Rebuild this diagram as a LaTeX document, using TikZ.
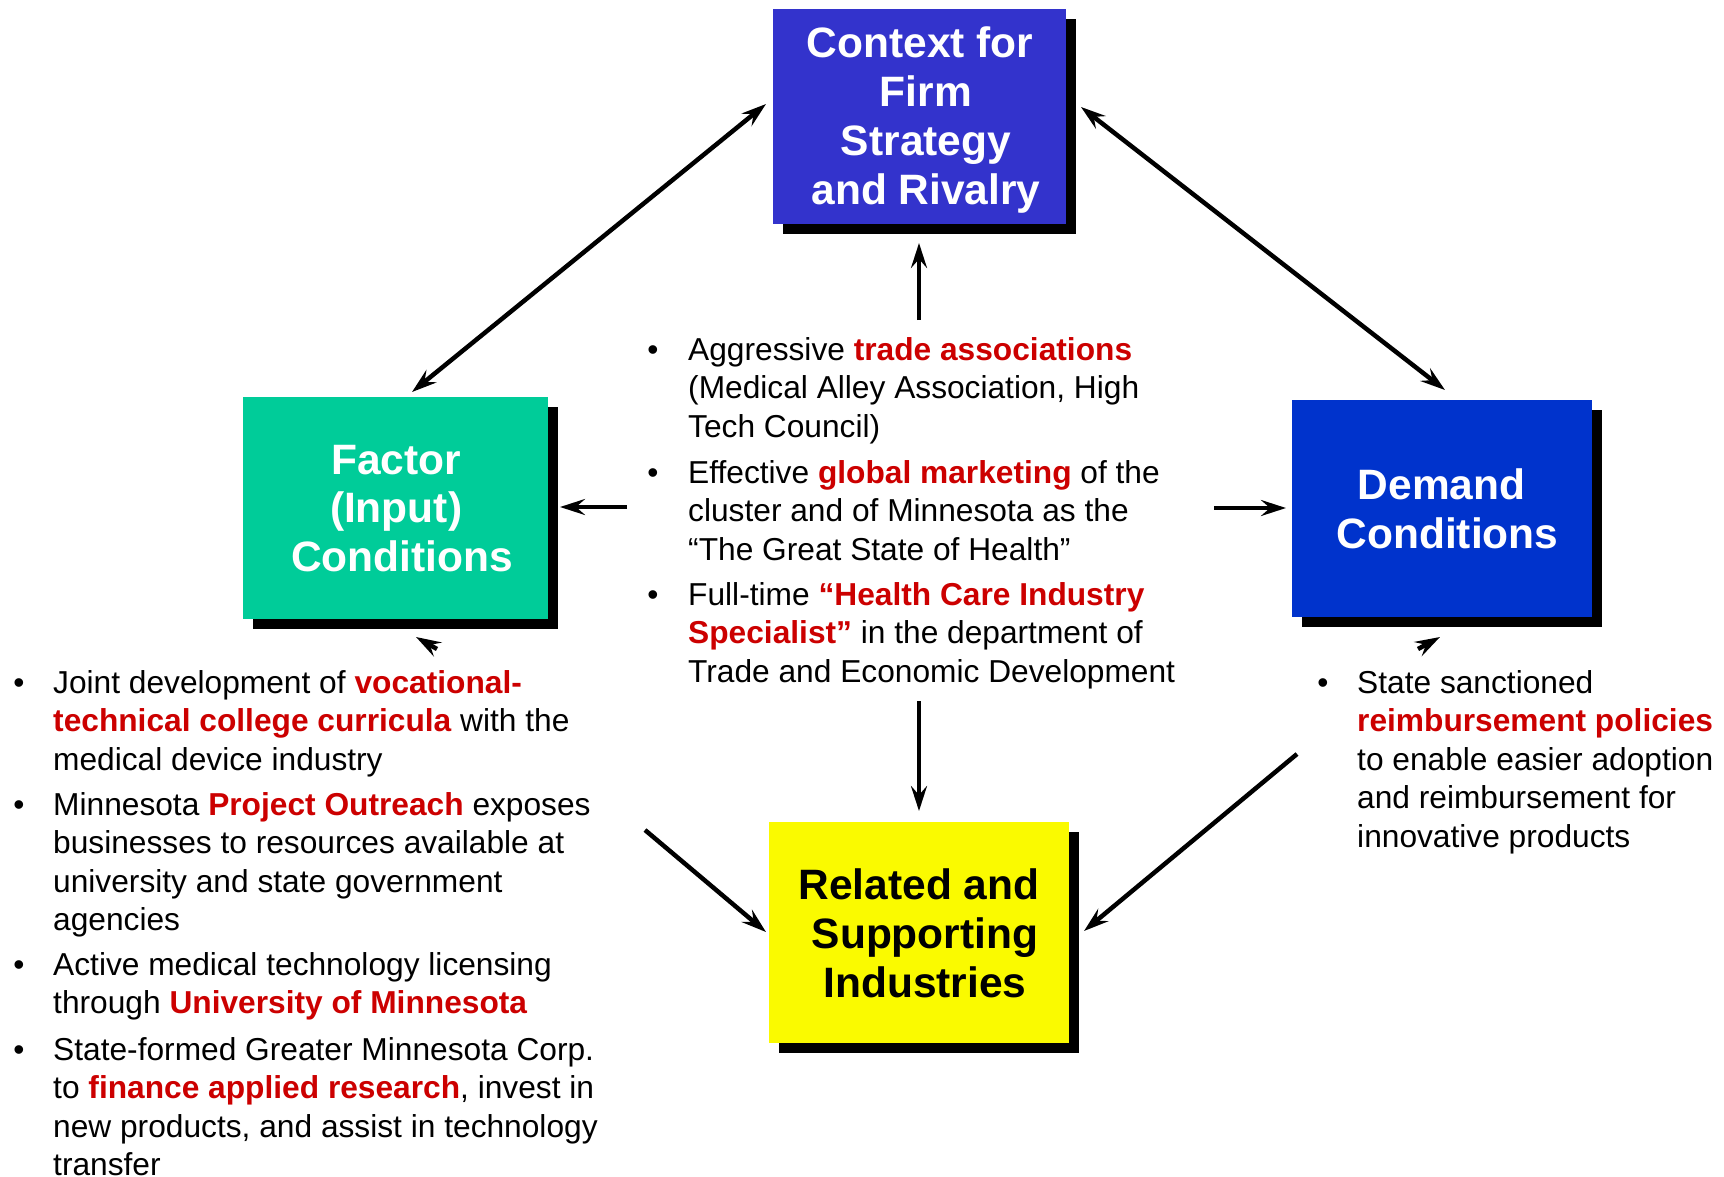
\documentclass[tikz,border=0pt]{standalone}
\usepackage{fontspec}
\setmainfont{Liberation Sans}
\usetikzlibrary{arrows.meta,shadows}

\definecolor{rivalryblue}{RGB}{51,51,204}
\definecolor{factorgreen}{RGB}{0,204,153}
\definecolor{demandblue}{RGB}{0,51,204}
\definecolor{relatedyellow}{RGB}{250,250,0}
\definecolor{keyred}{RGB}{204,0,0}
\newcommand\keyterm[1]{\textbf{\color{keyred}#1}}
% trailing word space kept at the end of a centred title line
\newcommand\tsp{\kern.278em}

\begin{document}
\begin{tikzpicture}[x=1pt,y=-1pt,
  porterbox/.style={inner sep=0pt,
    general shadow={fill=black, shadow xshift=10pt, shadow yshift=-10pt}},
  boxtitle/.style={anchor=base, inner sep=0pt, align=center,
    font=\fontsize{42.5}{48.7}\selectfont\bfseries},
  tip/.style={-{Stealth[length=25pt,width=16pt,inset=9pt]}},
  link/.style={line width=4.5pt, tip},
  twoway/.style={line width=4.5pt,
    {Stealth[length=25pt,width=16pt,inset=9pt]}-{Stealth[length=25pt,width=16pt,inset=9pt]}},
  bullettext/.style={anchor=base west, inner sep=0pt, align=left,
    font=\fontsize{31.7}{38.5}\selectfont},
  bulletmark/.style={anchor=base, inner sep=0pt,
    font=\fontsize{31.7}{38.5}\selectfont}
]
\useasboundingbox (0,0) rectangle (1724,1176);
\fill[white] (0,0) rectangle (1724,1176);

% the four determinants (boxes with a hard drop shadow)
\node[porterbox, fill=rivalryblue, minimum width=293pt, minimum height=215pt]
  (rivalry) at (919.5,116.5) {};
\node[porterbox, fill=factorgreen, minimum width=305pt, minimum height=222pt]
  (factor) at (395.5,508) {};
\node[porterbox, fill=demandblue, minimum width=300pt, minimum height=217pt]
  (demand) at (1442,508.5) {};
\node[porterbox, fill=relatedyellow, minimum width=300pt, minimum height=221pt]
  (related) at (919,932.5) {};

% box titles (anchored on the baseline of the last line)
\node[boxtitle, text=white] (rivalrytitle) at (926,204)
  {Context for\tsp\\Firm\\Strategy\\and Rivalry};
\node[boxtitle, text=white] (factortitle) at (402,571.5)
  {Factor\tsp\\(Input)\tsp\\Conditions};
\node[boxtitle, text=white] (demandtitle) at (1447.5,548.5)
  {Demand\tsp\\Conditions};
\node[boxtitle, text=black] (relatedtitle) at (925,997)
  {Related and\tsp\\Supporting\\Industries};

% central bullets (text nodes anchored on their last baseline)
\node[bulletmark] (cb1) at (653,360) {•};
\node[bullettext] (ct1) at (688,437) {Aggressive \keyterm{trade associations}\\(Medical Alley Association, High\\Tech Council)};
\node[bulletmark] (cb2) at (653,483) {•};
\node[bullettext] (ct2) at (688,560) {Effective \keyterm{global marketing} of the\\cluster and of Minnesota as the\\“The Great State of Health”};
\node[bulletmark] (cb3) at (653,605) {•};
\node[bullettext] (ct3) at (688,682) {Full-time \keyterm{“Health Care Industry}\\\keyterm{Specialist”} in the department of\\Trade and Economic Development};

% factor bullets
\node[bulletmark] (lb1) at (19,693) {•};
\node[bullettext] (lt1) at (53,770) {Joint development of \keyterm{vocational-}\\\keyterm{technical college curricula} with the\\medical device industry};
\node[bulletmark] (lb2) at (19,815) {•};
\node[bullettext] (lt2) at (53,930.5) {Minnesota \keyterm{Project Outreach} exposes\\businesses to resources available at\\university and state government\\agencies};
\node[bulletmark] (lb3) at (19,975) {•};
\node[bullettext] (lt3) at (53,1013.5) {Active medical technology licensing\\through \keyterm{University of Minnesota}};
\node[bulletmark] (lb4) at (19,1060) {•};
\node[bullettext] (lt4) at (53,1175.5) {State-formed Greater Minnesota Corp.\\to \keyterm{finance applied research}, invest in\\new products, and assist in technology\\transfer};

% demand bullet
\node[bulletmark] (rb1) at (1323,693) {•};
\node[bullettext] (rt1) at (1357,847) {State sanctioned\\\keyterm{reimbursement policies}\\to enable easier adoption\\and reimbursement for\\innovative products};

% connector end points
\coordinate (fr1) at (412,392);   \coordinate (fr2) at (766,104);
\coordinate (rd1) at (1081,107);  \coordinate (rd2) at (1445,390);
\coordinate (up1) at (919,320);   \coordinate (up2) at (919,243);
\coordinate (lf1) at (627,507);   \coordinate (lf2) at (560,507);
\coordinate (rt1a) at (1214,508); \coordinate (rt2a) at (1286,508);
\coordinate (dn1) at (919,701);   \coordinate (dn2) at (919,811);
\coordinate (fs1) at (645,830);   \coordinate (fs2) at (766,932);
\coordinate (ds1) at (1297,754);  \coordinate (ds2) at (1084,931);
\coordinate (fu1) at (437,649);   \coordinate (fu2) at (416,637);
\coordinate (du1) at (1418,649);  \coordinate (du2) at (1440,637);

% connectors
\draw[twoway] (fr1) -- (fr2);
\draw[twoway] (rd1) -- (rd2);
\draw[link] (up1) -- (up2);
\draw[link] (lf1) -- (lf2);
\draw[link] (rt1a) -- (rt2a);
\draw[link] (dn1) -- (dn2);
\draw[link] (fs1) -- (fs2);
\draw[link] (ds1) -- (ds2);
\draw[link] (fu1) -- (fu2);
\draw[link] (du1) -- (du2);
\end{tikzpicture}
\end{document}
